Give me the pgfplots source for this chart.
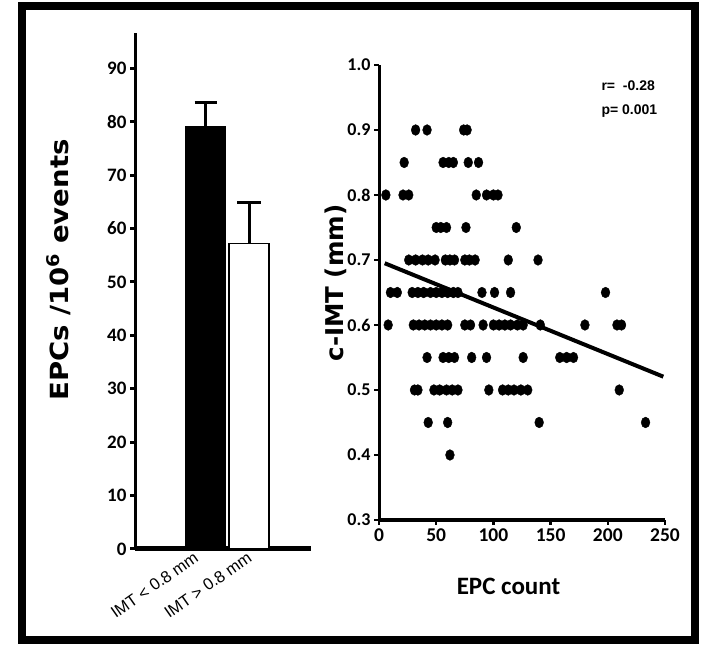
\documentclass[border=0pt]{standalone}
\usepackage{fontspec}
\setmainfont{Carlito}
\newfontfamily\dejavu{DejaVu Sans}
\newfontfamily\arial{Liberation Sans}
\usepackage{pgfplots}
\pgfplotsset{compat=1.18}
\begin{document}
\begin{tikzpicture}[x=1bp,y=1bp]
\useasboundingbox (0,0) rectangle (702,646);
\draw[line width=8bp] (22,6) rectangle (695,639.5);

% ---------- bar chart ----------
\begin{axis}[
  at={(135bp,97bp)}, anchor=south west, scale only axis,
  width=176bp, height=516bp,
  xmin=0, xmax=176, ymin=0, ymax=96.6,
  axis x line=bottom, axis y line=left,
  axis line style={-},
  x axis line style={line width=5bp},
  y axis line style={line width=3bp},
  ytick={0,10,20,30,40,50,60,70,80,90},
  tick align=outside,
  major tick length=5bp,
  ytick style={line width=3bp, black},
  xtick={73.5,127}, xticklabels={IMT < 0.8 mm, IMT > 0.8 mm},
  xtick style={draw=none},
  xticklabel style={rotate=35, anchor=north east, xshift=-7.5bp, yshift=15bp,
    font=\arial\fontsize{16.5bp}{18bp}\selectfont},
  yticklabel style={font=\bfseries\fontsize{19bp}{21bp}\selectfont},
  /pgf/number format/assume math mode=true,
  ybar, bar width=40bp, bar shift=0pt,
  clip=false,
]
\addplot[fill=black, draw=black, line width=1bp,
  error bars/.cd, y dir=plus, y explicit,
  error bar style={line width=3bp, black},
  error mark options={rotate=90, mark size=11bp, line width=3bp, black}]
  coordinates {(70.5,79.0) +- (0,4.6)};
\addplot[fill=white, draw=black, line width=1.5bp,
  error bars/.cd, y dir=plus, y explicit,
  error bar style={line width=3bp, black},
  error mark options={rotate=90, mark size=12bp, line width=3bp, black}]
  coordinates {(114,57.2) +- (0,7.6)};
\end{axis}

% ---------- scatter ----------
\begin{axis}[
  at={(379bp,126bp)}, anchor=south west, scale only axis,
  width=286bp, height=455bp,
  xmin=0, xmax=250, ymin=0.3, ymax=1.0,
  axis x line=bottom, axis y line=left,
  axis line style={-},
  x axis line style={line width=4bp},
  y axis line style={line width=3bp},
  xtick={0,50,100,150,200,250},
  ytick={0.3,0.4,0.5,0.6,0.7,0.8,0.9,1.0},
  tick align=outside, major tick length=5bp,
  tick style={line width=2.5bp, black},
  yticklabel style={font=\bfseries\fontsize{18bp}{20bp}\selectfont,
    /pgf/number format/.cd, fixed, fixed zerofill, precision=1},
  xticklabel style={font=\bfseries\fontsize{19.5bp}{22bp}\selectfont},
  /pgf/number format/assume math mode=true,
  clip=false,
]
\addplot[only marks, mark=*, mark size=4.4bp, mark options={fill=black, draw=black, yscale=1.22}] table {
x y
32 0.9
42 0.9
74 0.9
77 0.9
22 0.85
56 0.85
61 0.85
65 0.85
78 0.85
87 0.85
6 0.8
21 0.8
26 0.8
85 0.8
94 0.8
100 0.8
104 0.8
50 0.75
54 0.75
59 0.75
76 0.75
120 0.75
26 0.7
32 0.7
38 0.7
43 0.7
49 0.7
58 0.7
62 0.7
66 0.7
75 0.7
79 0.7
84 0.7
113 0.7
139 0.7
10 0.65
16 0.65
29 0.65
34 0.65
39 0.65
45 0.65
50 0.65
55 0.65
60 0.65
65 0.65
69 0.65
90 0.65
101 0.65
115 0.65
198 0.65
8 0.6
30 0.6
35 0.6
40 0.6
45 0.6
50 0.6
55 0.6
60 0.6
75 0.6
80 0.6
91 0.6
100 0.6
105 0.6
110 0.6
115 0.6
121 0.6
126 0.6
141 0.6
180 0.6
208 0.6
212 0.6
42 0.55
56 0.55
61 0.55
66 0.55
81 0.55
94 0.55
126 0.55
158 0.55
164 0.55
170 0.55
31 0.5
34 0.5
48 0.5
53 0.5
59 0.5
64 0.5
69 0.5
96 0.5
108 0.5
113 0.5
118 0.5
124 0.5
130 0.5
210 0.5
43 0.45
60 0.45
140 0.45
233 0.45
62 0.4
};
\addplot[no marks, black, line width=4bp] coordinates {(5,0.695) (248.5,0.5205)};
\end{axis}

\node[rotate=90, anchor=base, font=\dejavu\bfseries\fontsize{25bp}{28bp}\selectfont] at (68,376) {\scalebox{1.1}[1]{EPCs /10\textsuperscript{6} events}};
\node[rotate=90, anchor=base, font=\dejavu\bfseries\fontsize{24.5bp}{28bp}\selectfont] at (343,363) {c-IMT (mm)};
\node[anchor=base, font=\bfseries\fontsize{25bp}{28bp}\selectfont] at (508.5,51) {EPC count};
\node[anchor=base west, font=\arial\bfseries\fontsize{14bp}{16bp}\selectfont] at (598,555) {r=\ \ -0.28};
\node[anchor=base west, font=\arial\bfseries\fontsize{14bp}{16bp}\selectfont] at (598,531) {p= 0.001};
\end{tikzpicture}
\end{document}
